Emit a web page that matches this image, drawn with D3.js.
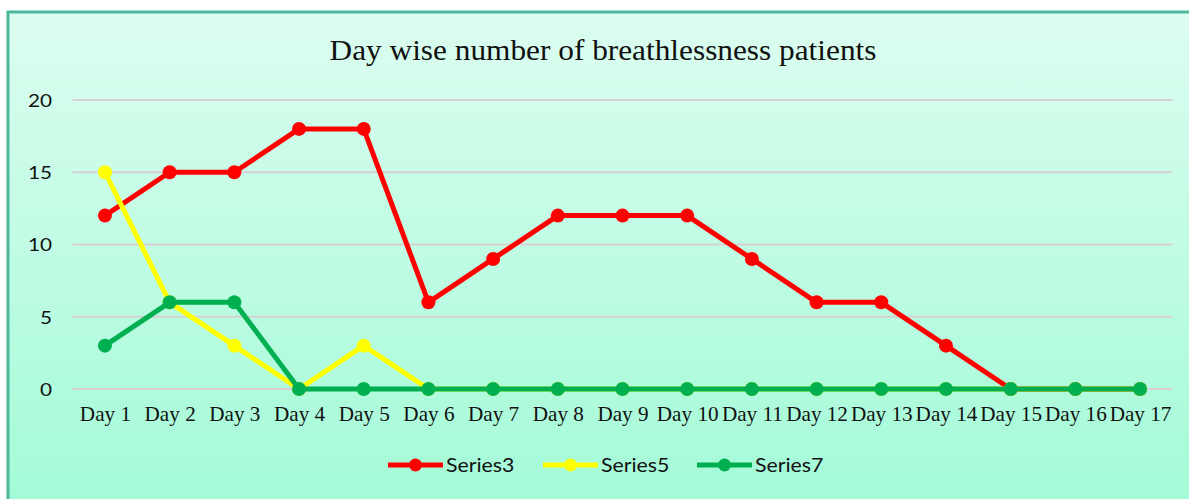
<!DOCTYPE html>
<html><head><meta charset="utf-8">
<script src="https://cdn.jsdelivr.net/npm/d3@7"></script>
<style>html,body{margin:0;padding:0;background:#fff;}svg{display:block;}</style>
</head><body>
<svg id="chart" width="1189" height="499"></svg>
<script>
const categories = ["Day 1","Day 2","Day 3","Day 4","Day 5","Day 6","Day 7","Day 8","Day 9","Day 10","Day 11","Day 12","Day 13","Day 14","Day 15","Day 16","Day 17"];
const series3 = [12,15,15,18,18,6,9,12,12,12,9,6,6,3,0,0,0];
const series5 = [15,6,3,0,3,0,0,0,0,0,0,0,0,0,0,0,0];
const series7 = [3,6,6,0,0,0,0,0,0,0,0,0,0,0,0,0,0];
const yTicks = [0,5,10,15,20];
const seriesNames = ["Series3","Series5","Series7"];
const title = "Day wise number of breathlessness patients";

const seriesList = [
  {name: seriesNames[0], values: series3, color: "#ff0000"},
  {name: seriesNames[1], values: series5, color: "#ffff00"},
  {name: seriesNames[2], values: series7, color: "#00b050"}
];

const svg = d3.select("#chart");
const defs = svg.append("defs");
const grad = defs.append("linearGradient").attr("id","bg").attr("x1",0).attr("y1",0).attr("x2",0).attr("y2",1);
grad.append("stop").attr("offset","0%").attr("stop-color","#dcfdf0");
grad.append("stop").attr("offset","100%").attr("stop-color","#a2fbd7");

svg.append("rect").attr("x",8).attr("y",12).attr("width",1195).attr("height",500)
  .attr("fill","url(#bg)").attr("stroke","#4db89b").attr("stroke-width",3);

const sx = 1.08; // horizontal stretch of text

const x = d3.scalePoint().domain(categories).range([72.6,1172.4]).padding(0.5);
const y = d3.scaleLinear().domain([0,20]).range([389,100]);

// title
svg.append("g").attr("transform",`translate(603,60) scale(${sx},1)`)
  .append("text").attr("text-anchor","middle")
  .attr("font-family","'Liberation Serif','Times New Roman',serif").attr("font-size",29)
  .attr("fill","#111").text(title);

// gridlines
svg.append("g").selectAll("line").data(yTicks).join("line")
  .attr("x1",72.6).attr("x2",1172.4)
  .attr("y1",d=>y(d)).attr("y2",d=>y(d))
  .attr("stroke","#d8d0d4").attr("stroke-width",2);

// y axis labels
const yAxis = d3.axisLeft(y).tickValues(yTicks).tickSize(0).tickPadding(0);
const yg = svg.append("g").attr("transform","translate(52,0)").call(yAxis);
yg.select(".domain").remove();
yg.selectAll("text")
  .attr("font-family","Lato,'Open Sans',sans-serif").attr("font-size",18).attr("fill","#111")
  .attr("x",0).attr("dy","0.35em")
  .attr("transform",`scale(1.15,1)`)
  .attr("text-anchor","end");

// x axis labels
const xAxis = d3.axisBottom(x).tickSize(0).tickPadding(0);
const xg = svg.append("g").attr("transform","translate(0,421)").call(xAxis);
xg.select(".domain").remove();
xg.selectAll("text")
  .attr("font-family","'Liberation Serif','Times New Roman',serif").attr("font-size",20).attr("fill","#111")
  .attr("y",0).attr("dy",0)
  .attr("transform",`scale(1.06,1)`);

// lines
const line = d3.line().x((d,i)=>x(categories[i])).y(d=>y(d));
seriesList.forEach(s=>{
  const g = svg.append("g");
  g.append("path").attr("d",line(s.values)).attr("fill","none")
    .attr("stroke",s.color).attr("stroke-width",5).attr("stroke-linejoin","round");
  g.selectAll("circle").data(s.values).join("circle")
    .attr("cx",(d,i)=>x(categories[i])).attr("cy",d=>y(d)).attr("r",7)
    .attr("fill",s.color);
});

// legend
const legendX = [388,543,697];
const lg = svg.append("g");
seriesList.forEach((s,i)=>{
  const g = lg.append("g").attr("transform",`translate(${legendX[i]},465)`);
  g.append("line").attr("x1",0).attr("x2",55).attr("y1",0).attr("y2",0)
    .attr("stroke",s.color).attr("stroke-width",5);
  g.append("circle").attr("cx",27.5).attr("cy",0).attr("r",6.5).attr("fill",s.color);
  g.append("g").attr("transform",`translate(58,0) scale(1.12,1)`)
    .append("text").attr("x",0).attr("dy","0.35em")
    .attr("font-family","Lato,'Open Sans',sans-serif").attr("font-size",19).attr("fill","#111")
    .text(s.name);
});
</script>
</body></html>
